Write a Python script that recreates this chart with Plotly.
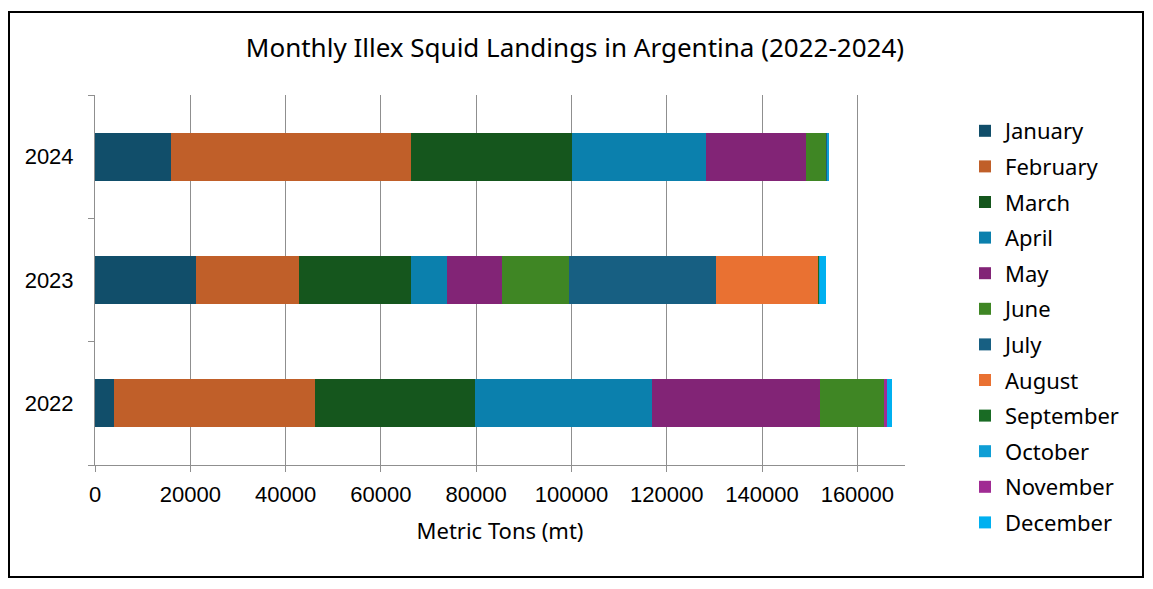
import plotly.graph_objects as go

years = ["2022", "2023", "2024"]
months = ["January", "February", "March", "April", "May", "June",
          "July", "August", "September", "October", "November", "December"]

# values per month for [2022, 2023, 2024] in metric tons
january = [3900, 21300, 15850]
february = [42300, 21550, 50450]
march = [33500, 23450, 33850]
april = [37150, 7550, 28150]
may = [35300, 11500, 20950]
june = [13400, 14050, 4250]
july = [0, 31000, 300]
august = [0, 21350, 0]
september = [0, 280, 0]
october = [0, 200, 280]
november = [700, 0, 0]
december = [1000, 1250, 0]

series = [january, february, march, april, may, june,
          july, august, september, october, november, december]

colors = ["#114E6A", "#C05F29", "#15561D", "#0B80AD", "#822476", "#3F8624",
          "#175F82", "#E97132", "#196B24", "#0F9ED5", "#A02B93", "#00B0F0"]

x_ticks = [0, 20000, 40000, 60000, 80000, 100000, 120000, 140000, 160000]

fig = go.Figure()
for name, vals, col in zip(months, series, colors):
    fig.add_trace(go.Bar(
        y=years, x=vals, name=name, orientation="h",
        marker=dict(color=col, line=dict(width=0)),
        legendgroup=name,
    ))

OFF = 8  # page body margin offset
W, H = 1153 - OFF, 589 - OFF
L, R, T, B = 95 - OFF, 905 - OFF, 95 - OFF, 465 - OFF
pw, ph = R - L, B - T

def px(xp):
    return (xp - OFF - L) / pw

def py(yp):
    return 1 - (yp - OFF - T) / ph

fig.update_layout(
    width=W, height=H,
    margin=dict(l=L, r=W - R, t=T, b=H - B, autoexpand=False),
    barmode="stack", bargap=0.61,
    paper_bgcolor="white", plot_bgcolor="white",
    font=dict(family="Liberation Sans, Arial, sans-serif", color="#000000", size=22),
    title=dict(text="Monthly Illex Squid Landings in Argentina (2022-2024)",
               x=(575 - OFF) / W, xref="container", xanchor="center",
               y=1 - (48 - OFF) / H, yref="container", yanchor="middle",
               font=dict(family="Noto Sans, sans-serif", size=26, color="#000000")),
    legend=dict(x=px(965), xanchor="left", y=py(110), yanchor="top",
                traceorder="grouped", tracegroupgap=4, maxheight=600,
                font=dict(family="Noto Sans, sans-serif", size=22, color="#000000"),
                bgcolor="rgba(0,0,0,0)"),
    showlegend=True,
    xaxis=dict(range=[0, 170000], tickvals=x_ticks,
               ticktext=[str(v) for v in x_ticks],
               showgrid=True, gridcolor="#8f8f8f", gridwidth=1,
               showline=True, linecolor="#8f8f8f", linewidth=1,
               ticks="outside", ticklen=6, tickcolor="#8f8f8f",
               ticklabelstandoff=4, zeroline=False,
               title=dict(text="Metric Tons (mt)", standoff=17,
                          font=dict(family="Noto Sans, sans-serif", size=22))),
    yaxis=dict(type="category", categoryorder="array", categoryarray=years,
               showgrid=False, showline=True, linecolor="#8f8f8f", linewidth=1,
               ticks="outside", ticklen=6, tickcolor="#8f8f8f",
               tickson="boundaries", ticklabelstandoff=16),
    shapes=[dict(type="rect", xref="paper", yref="paper",
                 x0=px(9), x1=px(1143), y0=py(577), y1=py(12),
                 line=dict(color="#000000", width=2), layer="below")],
)

fig.write_html("out.html")
